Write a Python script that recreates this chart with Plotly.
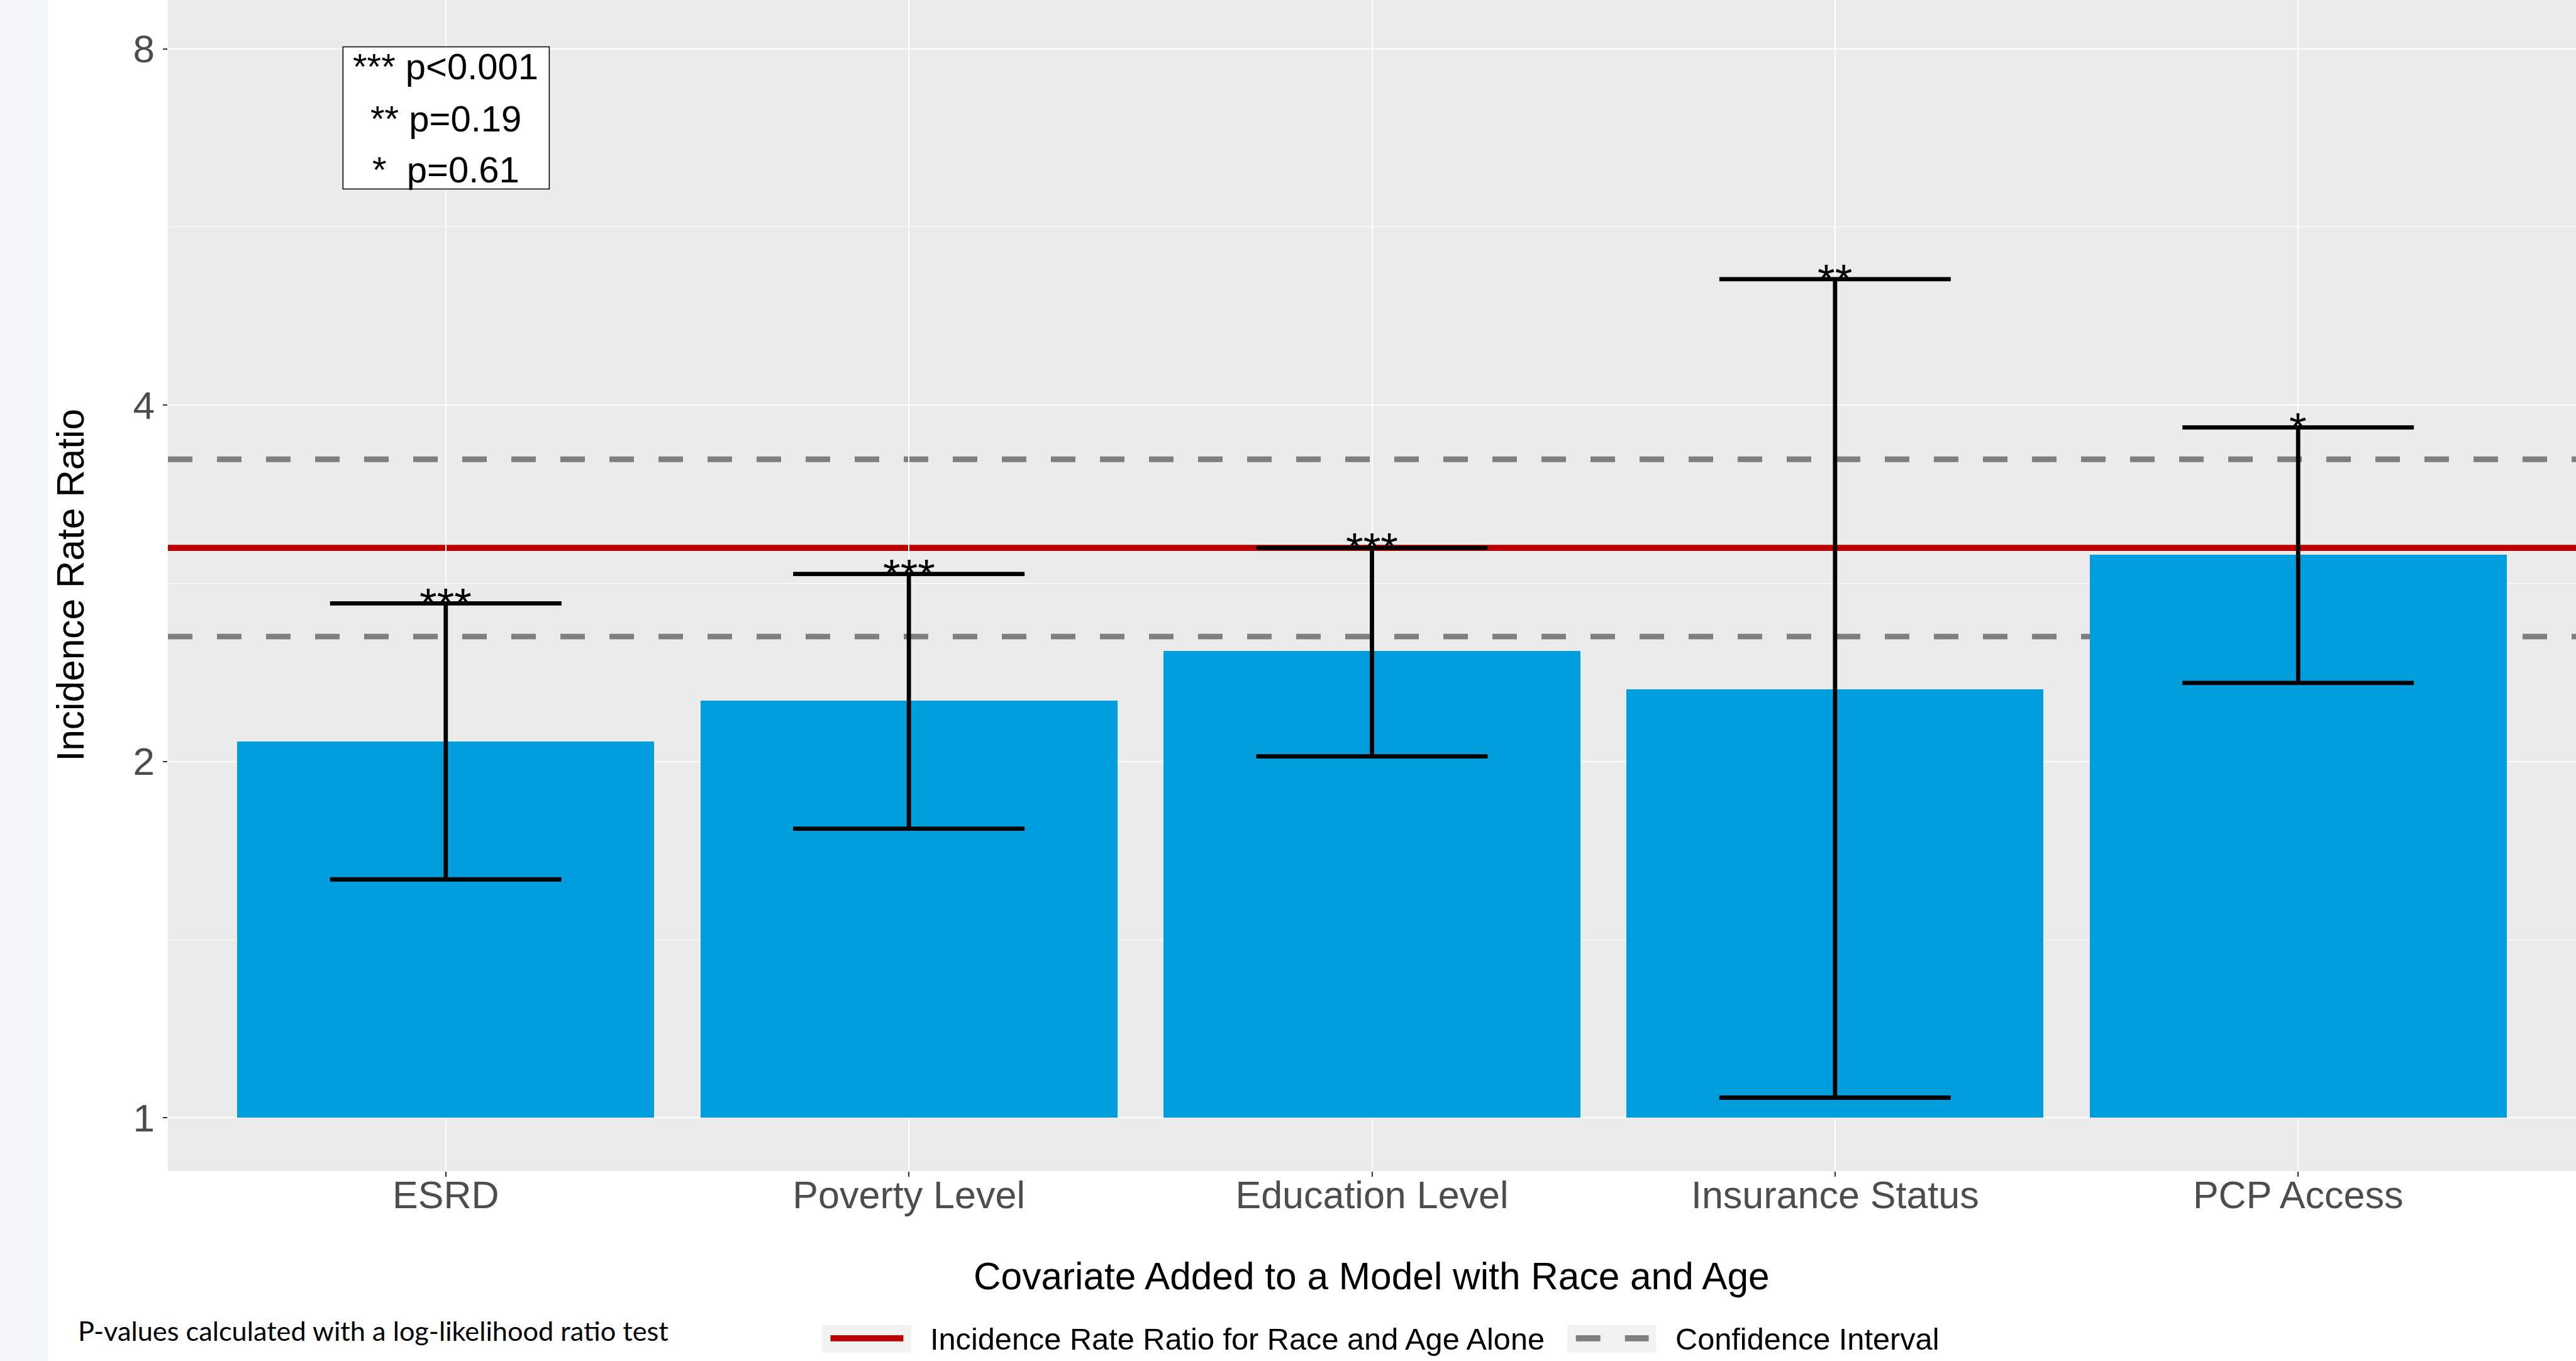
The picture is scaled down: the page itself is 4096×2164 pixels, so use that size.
import numpy as np
import plotly.graph_objects as go

# ---------------- data ----------------
categories = ["ESRD", "Poverty Level", "Education Level", "Insurance Status", "PCP Access"]
irr = [2.08, 2.25, 2.48, 2.30, 2.99]
ci_lower = [1.59, 1.755, 2.02, 1.04, 2.33]
ci_upper = [2.72, 2.88, 3.03, 5.11, 3.83]
stars = ["***", "***", "***", "**", "*"]

ref_irr = 3.03          # IRR for race and age alone
ref_ci_lower = 2.55
ref_ci_upper = 3.60

y_tickvals = [1, 2, 4, 8]
y_ticktext = ["1", "2", "4", "8"]
y_minor_vals = [1.414, 2.828, 5.657]

pvalue_lines = ["*** p<0.001", "** p=0.19", "*\u00a0 p=0.61"]
legend_labels = ["Incidence Rate Ratio for Race and Age Alone", "Confidence Interval"]

# ---------------- geometry ----------------
W, H = 4096, 2164
s = W / 4206.0
L = 267
PB = 1912 * s             # plot bottom in output px
PW = W - L

def px(xf):
    return (xf * s - L) / PW

def py(yf):
    return (PB - yf * s) / PB

FONT = "Liberation Sans, Arial, Helvetica, sans-serif"
BAR = "#009EDC"
RED = "#BB0000"
GREY = "#7F7F7F"

fig = go.Figure()

bar_base = [1] * len(irr)
fig.add_trace(go.Bar(
    x=categories, y=[v - b for v, b in zip(irr, bar_base)], base=bar_base,
    width=0.9, marker=dict(color=BAR, line=dict(width=0)), showlegend=False,
    hoverinfo="skip"))

fig.add_trace(go.Scatter(
    x=categories, y=irr, mode="markers",
    marker=dict(size=1, opacity=0), showlegend=False, hoverinfo="skip",
    error_y=dict(type="data", symmetric=False,
                 array=[u - v for u, v in zip(ci_upper, irr)],
                 arrayminus=[v - l for l, v in zip(ci_lower, irr)],
                 color="black", thickness=6.8, width=184)))

shapes = []
# reference lines (behind bars, above grid)
shapes.append(dict(type="line", xref="paper", yref="y", x0=0, x1=1,
                   y0=ref_irr, y1=ref_irr, layer="between",
                   line=dict(color=RED, width=9.7)))
for v in (ref_ci_lower, ref_ci_upper):
    shapes.append(dict(type="line", xref="paper", yref="y", x0=0, x1=1,
                       y0=v, y1=v, layer="between",
                       line=dict(color=GREY, width=8.8, dash="39px,39px")))

# left slide strip
shapes.append(dict(type="rect", xref="paper", yref="paper",
                   x0=px(-20), x1=px(78), y0=py(2300), y1=1.02,
                   fillcolor="#F4F8FB", line=dict(width=0), layer="below"))

# p-value box
shapes.append(dict(type="rect", xref="x", yref="y", x0=-0.222, x1=0.2235,
                   y0=6.09, y1=8.03, fillcolor="white",
                   line=dict(color="black", width=1.6), layer="above"))

# legend keys
shapes.append(dict(type="rect", xref="paper", yref="paper",
                   x0=px(1342), x1=px(1488), y0=py(2208), y1=py(2163),
                   fillcolor="#F2F2F2", line=dict(width=0)))
shapes.append(dict(type="line", xref="paper", yref="paper",
                   x0=px(1356), x1=px(1475), y0=py(2185), y1=py(2185),
                   line=dict(color=RED, width=9.7)))
shapes.append(dict(type="rect", xref="paper", yref="paper",
                   x0=px(2559), x1=px(2704), y0=py(2208), y1=py(2163),
                   fillcolor="#F2F2F2", line=dict(width=0)))
shapes.append(dict(type="line", xref="paper", yref="paper",
                   x0=px(2573), x1=px(2692), y0=py(2185), y1=py(2185),
                   line=dict(color=GREY, width=9.7, dash="39px,39px")))

annotations = []
# significance stars above upper CI
for c, u, st in zip(categories, ci_upper, stars):
    annotations.append(dict(x=c, y=np.log10(u), xref="x", yref="y", text=st,
                            showarrow=False, xanchor="center", yanchor="middle",
                            yshift=-1.5, font=dict(family=FONT, size=71, color="black")))

# p-value legend text
for txt, yl in zip(pvalue_lines, [0.8882, 0.8444, 0.8010]):
    annotations.append(dict(x=0, y=yl, xref="x", yref="y", text=txt,
                            showarrow=False, xanchor="center", yanchor="middle",
                            font=dict(family=FONT, size=58, color="black")))

# axis titles
annotations.append(dict(x=px(115.5), y=py(955), xref="paper", yref="paper",
                        text="Incidence Rate Ratio", textangle=-90, showarrow=False,
                        xanchor="center", yanchor="middle",
                        font=dict(family=FONT, size=60.4, color="black")))
annotations.append(dict(x=px(2240), y=py(2083.5), xref="paper", yref="paper",
                        text="Covariate Added to a Model with Race and Age",
                        showarrow=False, xanchor="center", yanchor="middle",
                        font=dict(family=FONT, size=60.4, color="black")))

# legend labels
annotations.append(dict(x=px(1517), y=py(2186.5), xref="paper", yref="paper",
                        text=legend_labels[0], showarrow=False,
                        xanchor="left", yanchor="middle",
                        font=dict(family=FONT, size=48.7, color="black")))
annotations.append(dict(x=px(2734), y=py(2186.5), xref="paper", yref="paper",
                        text=legend_labels[1], showarrow=False,
                        xanchor="left", yanchor="middle",
                        font=dict(family=FONT, size=48.7, color="black")))

# caption
annotations.append(dict(x=px(125), y=py(2171.5), xref="paper", yref="paper",
                        text="P-values calculated with a log-likelihood ratio test",
                        showarrow=False, xanchor="left", yanchor="middle",
                        font=dict(family="Lato, Open Sans, sans-serif", size=43.3, color="black")))

fig.update_layout(
    width=W, height=H,
    margin=dict(l=L, r=0, t=0, b=int(round(H - PB)), pad=0),
    paper_bgcolor="white", plot_bgcolor="#EBEBEB",
    showlegend=False, bargap=0,
    shapes=shapes, annotations=annotations,
    font=dict(family=FONT),
)

fig.update_xaxes(
    type="category", range=[-0.6, 4.6], automargin=False,
    showgrid=True, gridcolor="white", gridwidth=2.2,
    ticks="outside", ticklen=7.8, tickwidth=1.6, tickcolor="#333333",
    ticklabelstandoff=-23,
    tickfont=dict(family=FONT, size=61, color="#4D4D4D"),
    showline=False, zeroline=False,
)
fig.update_yaxes(
    type="log", range=[-0.0450, 0.9443], automargin=False,
    tickmode="array", tickvals=y_tickvals, ticktext=y_ticktext,
    showgrid=True, gridcolor="white", gridwidth=2.2,
    minor=dict(tickmode="array", tickvals=y_minor_vals, showgrid=True,
               gridcolor="white", gridwidth=1.1, ticks=""),
    ticks="outside", ticklen=7.5, tickwidth=1.6, tickcolor="#333333",
    tickfont=dict(family=FONT, size=62, color="#4D4D4D"),
    showline=False, zeroline=False,
)

fig.write_html("out.html")
